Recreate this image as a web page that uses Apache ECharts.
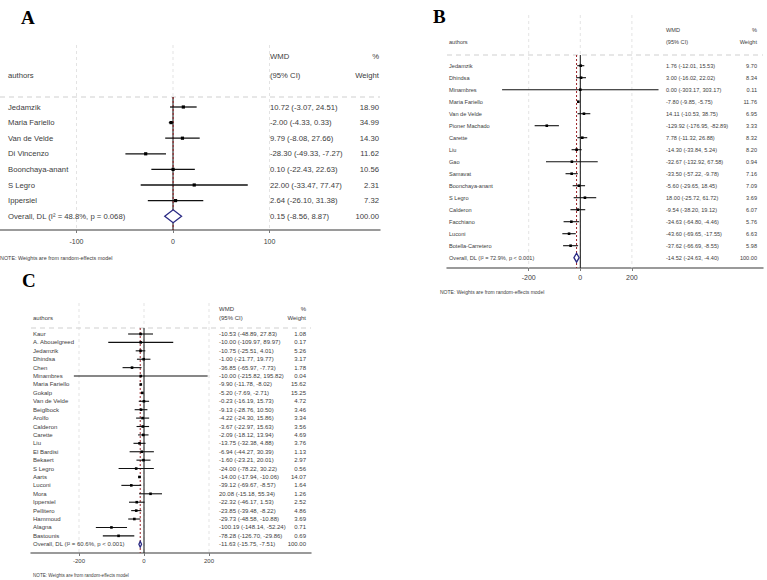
<!DOCTYPE html>
<html>
<head>
<meta charset="utf-8">
<script src="https://cdn.jsdelivr.net/npm/echarts@6/dist/echarts.min.js"></script>
<style>
html,body{margin:0;padding:0;background:#fff}
#chart{width:767px;height:580px}
</style>
</head>
<body>
<div id="chart"></div>
<script>
// ---- panel A ----
var authorsA = ['Jedamzik','Maria Fariello','Van de Velde','Di Vincenzo','Boonchaya-anant','S Legro','Ippersiel'];
var wmdA = [10.72,-2.00,9.79,-28.30,0.10,22.00,2.64];
var loA  = [-3.07,-4.33,-8.08,-49.33,-22.43,-33.47,-26.10];
var hiA  = [24.51,0.33,27.66,-7.27,22.63,77.47,31.38];
var wtA  = [18.90,34.99,14.30,11.62,10.56,2.31,7.32];
var overallA = [0.15,-8.56,8.87];
var hetA = 'I\u00b2 = 48.8%, p = 0.068';
var ticksA = [-100,0,100];

// ---- panel B ----
var authorsB = ['Jedamzik','Dhindsa','Minambres','Maria Fariello','Van de Velde','Pioner Machado','Carette','Liu','Gao','Samavat','Boonchaya-anant','S Legro','Calderon','Facchiano','Luconi','Botella-Carretero'];
var wmdB = [1.76,3.00,0.00,-7.80,14.11,-129.92,7.78,-14.30,-32.67,-33.50,-5.60,18.00,-9.54,-34.63,-43.60,-37.62];
var loB  = [-12.01,-16.02,-303.17,-9.85,-10.53,-176.95,-11.32,-33.84,-132.92,-57.22,-29.65,-25.72,-38.20,-64.80,-69.65,-66.69];
var hiB  = [15.53,22.02,303.17,-5.75,38.75,-82.89,26.88,5.24,67.58,-9.78,18.45,61.72,19.12,-4.46,-17.55,-8.55];
var wtB  = [9.70,8.34,0.11,11.76,6.95,3.33,8.32,8.20,0.94,7.16,7.09,3.69,6.07,5.76,6.63,5.98];
var overallB = [-14.52,-24.63,-4.40];
var hetB = 'I\u00b2 = 72.9%, p < 0.001';
var ticksB = [-200,0,200];

// ---- panel C ----
var authorsC = ['Kaur','A. Abouelgreed','Jedamzik','Dhindsa','Chen','Minambres','Maria Fariello','Gokalp','Van de Velde','Beiglbock','Arolfo','Calderon','Carette','Liu','El Bardisi','Bekaert','S Legro','Aarts','Luconi','Mora','Ippersiel','Pellitero','Hammoud','Alagna','Bastounis'];
var wmdC = [-10.53,-10.00,-10.75,-1.00,-36.85,-10.00,-9.90,-5.20,-0.23,-9.13,-4.22,-3.67,-2.09,-13.75,-6.94,-1.60,-24.00,-14.00,-39.12,20.08,-22.32,-23.85,-29.73,-100.19,-78.28];
var loC  = [-48.89,-109.97,-25.51,-21.77,-65.97,-215.82,-11.78,-7.69,-16.19,-28.76,-24.30,-22.97,-18.12,-32.38,-44.27,-23.21,-78.22,-17.94,-69.67,-15.18,-46.17,-39.48,-48.58,-148.14,-126.70];
var hiC  = [27.83,89.97,4.01,19.77,-7.73,195.82,-8.02,-2.71,15.73,10.50,15.86,15.63,13.94,4.88,30.39,20.01,30.22,-10.06,-8.57,55.34,1.53,-8.22,-10.88,-52.24,-29.86];
var wtC  = [1.08,0.17,5.26,3.17,1.78,0.04,15.62,15.25,4.72,3.46,3.34,3.56,4.69,3.76,1.13,2.97,0.56,14.07,1.64,1.26,2.52,4.86,3.69,0.71,0.69];
var overallC = [-11.63,-15.75,-7.51];
var hetC = 'I\u00b2 = 60.6%, p < 0.001';
var ticksC = [-200,0,200];

var SANS = '"Liberation Sans", Arial, sans-serif';
var SERIF = '"Liberation Serif", "Times New Roman", serif';
var TXT = '#3c3c3c';

// pixel layout of each panel
var panels = [
	{ letter:'A', letterX:21, letterY:17, names:authorsA, wmd:wmdA, lo:loA, hi:hiA, wt:wtA, ov:overallA, het:hetA, ticks:ticksA,
	  left:0, right:380, top:45, bottom:230, zeroX:173, ppu:0.965, row0:107, step:15.6,
	  nameX:8, estX:270, wtX:379, fs:7.7, head1:56, head2:75, dashY:97, noteX:0, noteY:258, noteFs:5.4,
	  tickFs:7, tickMargin:8, dot:3.2, lw:1.3, dia:6.5 },
	{ letter:'B', letterX:433, letterY:16, names:authorsB, wmd:wmdB, lo:loB, hi:hiB, wt:wtB, ov:overallB, het:hetB, ticks:ticksB,
	  left:447, right:763, top:15, bottom:268, zeroX:580.3, ppu:0.258, row0:65.7, step:12.0,
	  nameX:449, estX:666, wtX:757, fs:5.6, head1:30, head2:42, dashY:55, noteX:440, noteY:292, noteFs:5,
	  tickFs:7, tickMargin:6, dot:2.6, lw:1.1, dia:4.5 },
	{ letter:'C', letterX:22, letterY:280, names:authorsC, wmd:wmdC, lo:loC, hi:hiC, wt:wtC, ov:overallC, het:hetC, ticks:ticksC,
	  left:31, right:311, top:303, bottom:553, zeroX:144, ppu:0.325, row0:334, step:8.41,
	  nameX:33, estX:219, wtX:306, fs:6, head1:309, head2:318, dashY:328, noteX:33, noteY:575, noteFs:4.6,
	  tickFs:6, tickMargin:5, dot:2.6, lw:1.1, dia:3 }
];

function fmt(v) { return v.toFixed(2); }
function ciText(e, l, h) { return fmt(e) + ' (' + fmt(l) + ', ' + fmt(h) + ')'; }
function txt(s, x, y, size, align, color, font) {
	return { type:'text', style:{ text:s, x:x, y:y, fill:color || TXT, fontSize:size, fontFamily:font || SANS,
		align:align || 'left', verticalAlign:'middle' } };
}

var grids = [], xAxes = [], yAxes = [], series = [], graphics = [];

panels.forEach(function(p, i) {
	var n = p.names.length;
	grids.push({ left:p.left, top:p.top, width:p.right - p.left, height:p.bottom - p.top,
		containLabel:false, outerBoundsMode:'none' });
	xAxes.push({
		gridIndex:i, type:'value',
		min:(p.left - p.zeroX) / p.ppu, max:(p.right - p.zeroX) / p.ppu,
		axisLine:{ show:true, onZero:false, lineStyle:{ color:'#7a7a7a', width:1.5 } },
		axisTick:{ show:true, customValues:p.ticks, length:3, lineStyle:{ color:'#7a7a7a' } },
		axisLabel:{ customValues:p.ticks, fontSize:p.tickFs, color:TXT, fontFamily:SANS, margin:p.tickMargin },
		splitLine:{ show:false }
	});
	yAxes.push({
		gridIndex:i, type:'value', inverse:true, show:false,
		min:-(p.row0 - p.top) / p.step, max:(p.bottom - p.row0) / p.step
	});

	// grey vertical guides at the ticks
	series.push({
		type:'custom', xAxisIndex:i, yAxisIndex:i, silent:true, z:1,
		data:p.ticks.map(function(t) { return [t]; }),
		renderItem:function(params, api) {
			var cs = params.coordSys;
			var x = api.coord([api.value(0), 0])[0];
			return { type:'line', shape:{ x1:x, y1:cs.y, x2:x, y2:cs.y + cs.height },
				style:{ stroke:'#dcdcdc', lineWidth:0.8, lineDash:[3, 3] } };
		}
	});
	// null line and overall effect line
	series.push({
		type:'custom', xAxisIndex:i, yAxisIndex:i, silent:true, z:2,
		data:[[0, 0], [p.ov[0], 1]],
		renderItem:function(params, api) {
			var cs = params.coordSys;
			var x = api.coord([api.value(0), 0])[0];
			var isOv = api.value(1) === 1;
			return { type:'line', shape:{ x1:x, y1:p.dashY, x2:x, y2:cs.y + cs.height },
				style: isOv ? { stroke:'#9b2226', lineWidth:1, lineDash:[2, 2] } : { stroke:'#111', lineWidth:1 } };
		}
	});
	// studies: CI line, point, text columns
	var rows = [];
	for (var k = 0; k < n; k++) rows.push([k, p.wmd[k], p.lo[k], p.hi[k], p.wt[k]]);
	series.push({
		type:'custom', xAxisIndex:i, yAxisIndex:i, z:3,
		data:rows,
		renderItem:function(params, api) {
			var r = api.value(0), e = api.value(1), l = api.value(2), h = api.value(3), w = api.value(4);
			var pe = api.coord([e, r]), pl = api.coord([l, r]), ph = api.coord([h, r]);
			var y = pe[1], d = p.dot;
			return { type:'group', children:[
				{ type:'line', shape:{ x1:pl[0], y1:y, x2:ph[0], y2:y }, style:{ stroke:'#111', lineWidth:p.lw } },
				{ type:'rect', shape:{ x:pe[0] - d / 2, y:y - d / 2, width:d, height:d }, style:{ fill:'#000' } },
				txt(p.names[params.dataIndex], p.nameX, y, p.fs),
				txt(ciText(e, l, h), p.estX, y, p.fs),
				txt(fmt(w), p.wtX, y, p.fs, 'right')
			] };
		}
	});
	// overall diamond
	series.push({
		type:'custom', xAxisIndex:i, yAxisIndex:i, z:4,
		data:[[n, p.ov[0], p.ov[1], p.ov[2]]],
		renderItem:function(params, api) {
			var r = api.value(0), e = api.value(1), l = api.value(2), h = api.value(3);
			var pe = api.coord([e, r]), pl = api.coord([l, r]), ph = api.coord([h, r]);
			var y = pe[1], hh = p.dia;
			return { type:'group', children:[
				{ type:'polygon', shape:{ points:[[pl[0], y], [pe[0], y - hh], [ph[0], y], [pe[0], y + hh]] },
					style:{ fill:'#fff', stroke:'#2b2b84', lineWidth:1.3 } },
				txt('Overall, DL (' + p.het + ')', p.nameX, y, p.fs),
				txt(ciText(e, l, h), p.estX, y, p.fs),
				txt('100.00', p.wtX, y, p.fs, 'right')
			] };
		}
	});

	// headers, letter, note
	graphics.push(txt(p.letter, p.letterX, p.letterY, 19, 'left', '#000', SERIF));
	graphics[graphics.length - 1].style.fontWeight = 'bold';
	graphics.push(txt('authors', p.nameX, p.head2, p.fs));
	graphics.push(txt('WMD', p.estX, p.head1, p.fs));
	graphics.push(txt('(95% CI)', p.estX, p.head2, p.fs));
	graphics.push(txt('%', p.wtX, p.head1, p.fs, 'right'));
	graphics.push(txt('Weight', p.wtX, p.head2, p.fs, 'right'));
	graphics.push({ type:'line', shape:{ x1:p.left, y1:p.dashY, x2:p.right, y2:p.dashY },
		style:{ stroke:'#cfcfcf', lineWidth:1, lineDash:[5, 4] } });
	graphics.push(txt('NOTE: Weights are from random-effects model', p.noteX, p.noteY, p.noteFs));
});

var chart = echarts.init(document.getElementById('chart'), null, { renderer:'svg' });
chart.setOption({
	animation:false,
	backgroundColor:'#fff',
	grid:grids,
	xAxis:xAxes,
	yAxis:yAxes,
	series:series,
	graphic:graphics
});
</script>
</body>
</html>
